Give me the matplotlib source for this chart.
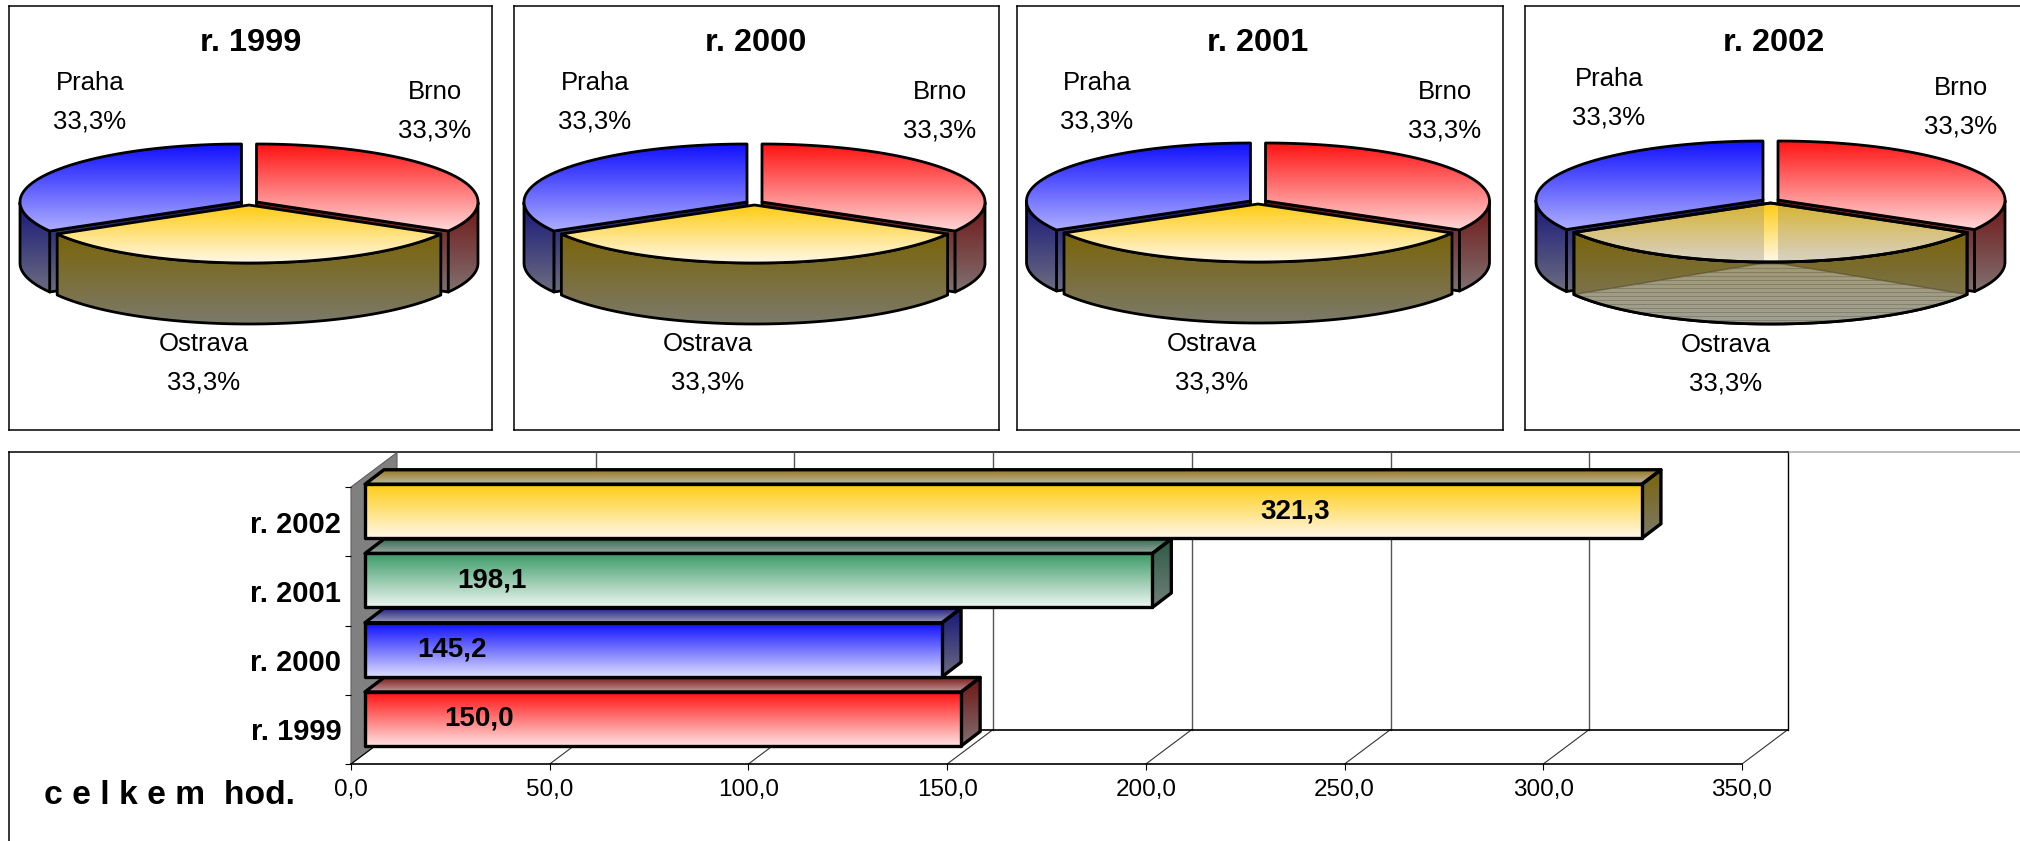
import numpy as np
import matplotlib
matplotlib.use('Agg')
import matplotlib.pyplot as plt
from matplotlib.colors import to_rgb
from matplotlib.patches import Polygon, Rectangle

W, H = 2020, 841

years = ['r. 1999', 'r. 2000', 'r. 2001', 'r. 2002']
cities = ['Brno', 'Ostrava', 'Praha']
shares = [33.3, 33.3, 33.3]
totals = [150.0, 145.2, 198.1, 321.3]
xticks = [0, 50, 100, 150, 200, 250, 300, 350]
# where the label of each total sits along its bar, in hours
total_label_x = [32.2, 25.4, 35.5, 237.5]

ARIAL = ['Liberation Sans']

# frame x0, x1 / pie centre x, half width, half height, depth for each year
frames = [(9, 492), (514, 999), (1017, 1503), (1525, 2035)]
pie_cx = [249, 754.5, 1258, 1770.5]
pie_a = [221.5, 223, 224, 227]
pie_b = [58, 58, 58, 59]
pie_cy = [202, 202, 201, 200]
pie_depth = [61, 61, 61, 62]
title_x = [251, 756, 1258, 1774]
label_x = {'Brno': [435, 940, 1445, 1961], 'Ostrava': [204, 708, 1212, 1726], 'Praha': [90, 595, 1097, 1609]}
label_y = {'Brno': [92, 92, 92, 88], 'Ostrava': [344, 344, 344, 345], 'Praha': [83, 83, 83, 79]}
explode = {'Brno': (7.5, 0), 'Ostrava': (0, 3), 'Praha': (-7.5, 0)}

top_col = {'Brno': ('#ff1212', '#ffd8d8'), 'Ostrava': ('#ffcc12', '#fff8ea'), 'Praha': ('#1010ff', '#aeaeff')}
side_col = {'Brno': ('#701414', '#807070'), 'Ostrava': ('#7a6408', '#7c7a6c'), 'Praha': ('#16167a', '#6c6c80')}

bar_front = ['#ff1212', '#1010ff', '#3a9a66', '#ffcc12']
bar_pale = ['#ffe2e2', '#dedeff', '#eef6f2', '#fff8ea']
bar_top = [('#7a1616', '#c09898'), ('#20208a', '#9c9cb4'), ('#30644c', '#98a8a0'), ('#94781c', '#c0b4a0')]
bar_side = [('#701414', '#807070'), ('#16167a', '#6c6c80'), ('#2c5a44', '#70807a'), ('#7a6408', '#7c7a6c')]

fig = plt.figure(figsize=(W / 100, H / 100), dpi=100, facecolor='white')


def fill_grad(ax, verts, top, bot, zorder, lw=2.0):
    verts = np.asarray(verts, dtype=float)
    c = np.linspace(0, 1, 256)[:, None, None]
    img = (1 - c) * np.array(to_rgb(top)) + c * np.array(to_rgb(bot))
    x0, x1 = verts[:, 0].min(), verts[:, 0].max()
    y0, y1 = verts[:, 1].min(), verts[:, 1].max()
    ext = (x0, x1, y1, y0) if ax.yaxis_inverted() else (x0, x1, y0, y1)
    poly = Polygon(verts, closed=True, fc='none', ec='k', lw=lw, joinstyle='round',
                   zorder=zorder + 0.1, clip_on=False)
    ax.add_patch(poly)
    im = ax.imshow(img, extent=ext, aspect='auto', origin='upper', interpolation='bilinear', zorder=zorder)
    im.set_clip_path(poly)
    # images outside the axes box get cut unless the box is the whole figure
    im.set_clip_box(fig.bbox)
    return poly


def fmt(v, d=1):
    return f'{v:.{d}f}'.replace('.', ',')


def pixel_axes(x0, x1, y0, y1):
    ax = fig.add_axes([x0 / W, 1 - y1 / H, (x1 - x0) / W, (y1 - y0) / H])
    ax.set_xlim(x0, x1)
    ax.set_ylim(y1, y0)
    ax.set_autoscale_on(False)
    ax.set_xticks([])
    ax.set_yticks([])
    for s in ax.spines.values():
        s.set_linewidth(1.1)
    return ax


def draw_pie(ax, k):
    cx, cy, a, b, depth = pie_cx[k], pie_cy[k], pie_a[k], pie_b[k], pie_depth[k]
    spans = 360 * np.array(shares) / sum(shares)
    start = 90.0
    tops = {}
    # back wedges first, Ostrava lies in front of both
    order = []
    for name, span in zip(cities, spans):
        order.append((name, start, start - span))
        start -= span
    for name, a0, a1 in sorted(order, key=lambda o: o[0] == 'Ostrava'):
        ox, oy = explode[name]
        px, py = cx + ox, cy + oy
        t = np.radians(np.linspace(a0, a1, 200))
        arc = np.c_[px + a * np.cos(t), py - b * np.sin(t)]
        front = arc[np.sin(t) <= 0]
        if name != 'Ostrava':
            corner = arc[0] if arc[0, 1] > py else arc[-1]
            fill_grad(ax, [(px, py), corner, corner + (0, depth), (px, py + depth)], *side_col[name], 2)
        wall = np.r_[front, front[::-1] + (0, depth)]
        fill_grad(ax, wall, *side_col[name], 2.5)
        top = np.r_[[(px, py)], arc]
        tops[name] = top
        fill_grad(ax, top, *top_col[name], 3 if name != 'Ostrava' else 3.5)
        lx, ly = label_x[name][k], label_y[name][k]
        ax.text(lx, ly, name, ha='center', va='center', fontsize=18.5, family=ARIAL)
        ax.text(lx, ly + 38.5, fmt(shares[cities.index(name)]) + '%', ha='center', va='center',
                fontsize=18.5, family=ARIAL)
    ax.text(title_x[k], 43, years[k], ha='center', va='center', fontsize=23.4, fontweight='bold', family=ARIAL)
    return tops


for k in range(4):
    ax = pixel_axes(frames[k][0], frames[k][1], 6, 430)
    tops = draw_pie(ax, k)
    if k == 3:
        # the 2002 picture has Ostrava half transparent
        cx, cy, a, b, depth = pie_cx[k], pie_cy[k], pie_a[k], pie_b[k], pie_depth[k]
        gap_l, gap_r = cx - 7, cx + 7
        clip = Polygon(tops['Ostrava'], closed=True, fc='none', ec='none', zorder=3.6)
        ax.add_patch(clip)
        for x0, x1 in [(cx - a, gap_l), (gap_r, cx + a)]:
            r = Rectangle((x0, cy), x1 - x0, b + 10, fc='#7c7c7c', ec='none', alpha=0.3, zorder=3.7)
            ax.add_patch(r)
            r.set_clip_path(clip)
        t = np.radians(np.linspace(-150, -30, 200))
        arc = np.c_[cx + a * np.cos(t), cy + 3 - b * np.sin(t)]
        wall = Polygon(np.r_[arc, arc[::-1] + (0, depth)], closed=True, fc='none', ec='none', zorder=2.6)
        ax.add_patch(wall)
        mid_y = arc[:, 1].max()
        low_y = arc[0, 1] + depth
        low = Polygon([(arc[0, 0], low_y), (cx, mid_y), (arc[-1, 0], low_y),
                       (arc[-1, 0], low_y + 60), (arc[0, 0], low_y + 60)],
                      closed=True, fc='#cfcfc8', ec='#403820', lw=1.0, alpha=0.45, zorder=2.7)
        ax.add_patch(low)
        low.set_clip_path(wall)
        # fine banding over the pale part of the side
        for y in np.arange(mid_y + 2, mid_y + depth, 4):
            f = min((y - mid_y) / (low_y - mid_y), 1)
            ln, = ax.plot([cx - f * (cx - arc[0, 0]), cx + f * (arc[-1, 0] - cx)], [y, y], color='#5c5a4c',
                          lw=0.6, alpha=0.5, zorder=2.8)
            ln.set_clip_path(wall)
        # outlines have to stay on top of the veil
        ax.add_patch(Polygon(np.r_[arc, arc[::-1] + (0, depth)], closed=True, fc='none', ec='k', lw=2, zorder=3.4))
        ax.add_patch(Polygon(tops['Ostrava'], closed=True, fc='none', ec='k', lw=2, zorder=3.8))

# bar chart: outer frame only shows on the left and the top
bg = pixel_axes(9, 2035, 452, 850)
bg.spines['top'].set_bounds(9, 1788)
bg.spines['right'].set_visible(False)
bg.spines['bottom'].set_visible(False)
bg.plot([1788, 2020], [452, 452], color='#b0b0b0', lw=1.2, clip_on=False, zorder=1)

ax_b = fig.add_axes([351 / W, 1 - 764 / H, 1391 / W, 277 / H], facecolor='none')
ax_b.set_xlim(0, 350)
ax_b.set_ylim(-0.5, 3.5)
ax_b.set_autoscale_on(False)
sx = 1391 / 350
sy = 277 / 4
for s in ax_b.spines.values():
    s.set_visible(False)

dx, dy = 46 / sx, 34.5 / sy
y0, y1 = -0.5, 3.5
ax_b.add_patch(Polygon([(0, y0), (dx, y0 + dy), (dx, y1 + dy), (0, y1)], closed=True, fc='#808080', ec='#606060',
                       lw=0.8, clip_on=False, zorder=1))
for v in xticks[1:]:
    ax_b.plot([v + dx, v + dx], [y0 + dy, y1 + dy], color='k' if v == xticks[-1] else '#555555',
              lw=1.0, clip_on=False, zorder=1)
    ax_b.plot([v, v + dx], [y0, y0 + dy], color='#333333', lw=0.8, clip_on=False, zorder=1)
ax_b.plot([0, dx], [y0, y0 + dy], color='k', lw=0.8, clip_on=False, zorder=1)
ax_b.plot([dx, xticks[-1] + dx], [y0 + dy, y0 + dy], color='k', lw=1.2, clip_on=False, zorder=1)
ax_b.plot([0, xticks[-1]], [y0, y0], color='k', lw=1.2, clip_on=False, zorder=1)

ax_b.set_xticks(xticks, [fmt(v) for v in xticks], fontsize=17.5, family=ARIAL)
ax_b.set_yticks(range(4), years, fontsize=21, fontweight='bold', family=ARIAL)
ax_b.set_yticks(np.arange(-0.5, 4), minor=True)
ax_b.tick_params(axis='y', which='major', length=0, pad=7)
ax_b.tick_params(axis='y', which='minor', length=4, width=0.8)
ax_b.tick_params(axis='x', length=4, width=0.8, pad=7)

off1 = 14 / sx
back = 19 / sx
off_up = 14.5 / sy
hgt = 54 / sy
for i, v in enumerate(totals):
    yb = i + 0.15 - hgt / 2
    yt = yb + hgt
    xl, xr = off1, off1 + v
    fill_grad(ax_b, [(xl, yt), (xr, yt), (xr + back, yt + off_up), (xl + back, yt + off_up)], *bar_top[i], 3, lw=2.4)
    fill_grad(ax_b, [(xr, yb), (xr + back, yb + off_up), (xr + back, yt + off_up), (xr, yt)], *bar_side[i], 3, lw=2.4)
    fill_grad(ax_b, [(xl, yb), (xr, yb), (xr, yt), (xl, yt)], bar_front[i], bar_pale[i], 4, lw=2.4)
    ax_b.text(total_label_x[i], i + 0.15, fmt(v), ha='center', va='center', fontsize=20,
              fontweight='bold', family=ARIAL, zorder=6)

fig.text(44 / W, 1 - 795 / H, 'c e l k e m  hod.', ha='left', va='center', fontsize=24.2, fontweight='bold', family=ARIAL)

fig.savefig('out.png', dpi=100, facecolor='white')
